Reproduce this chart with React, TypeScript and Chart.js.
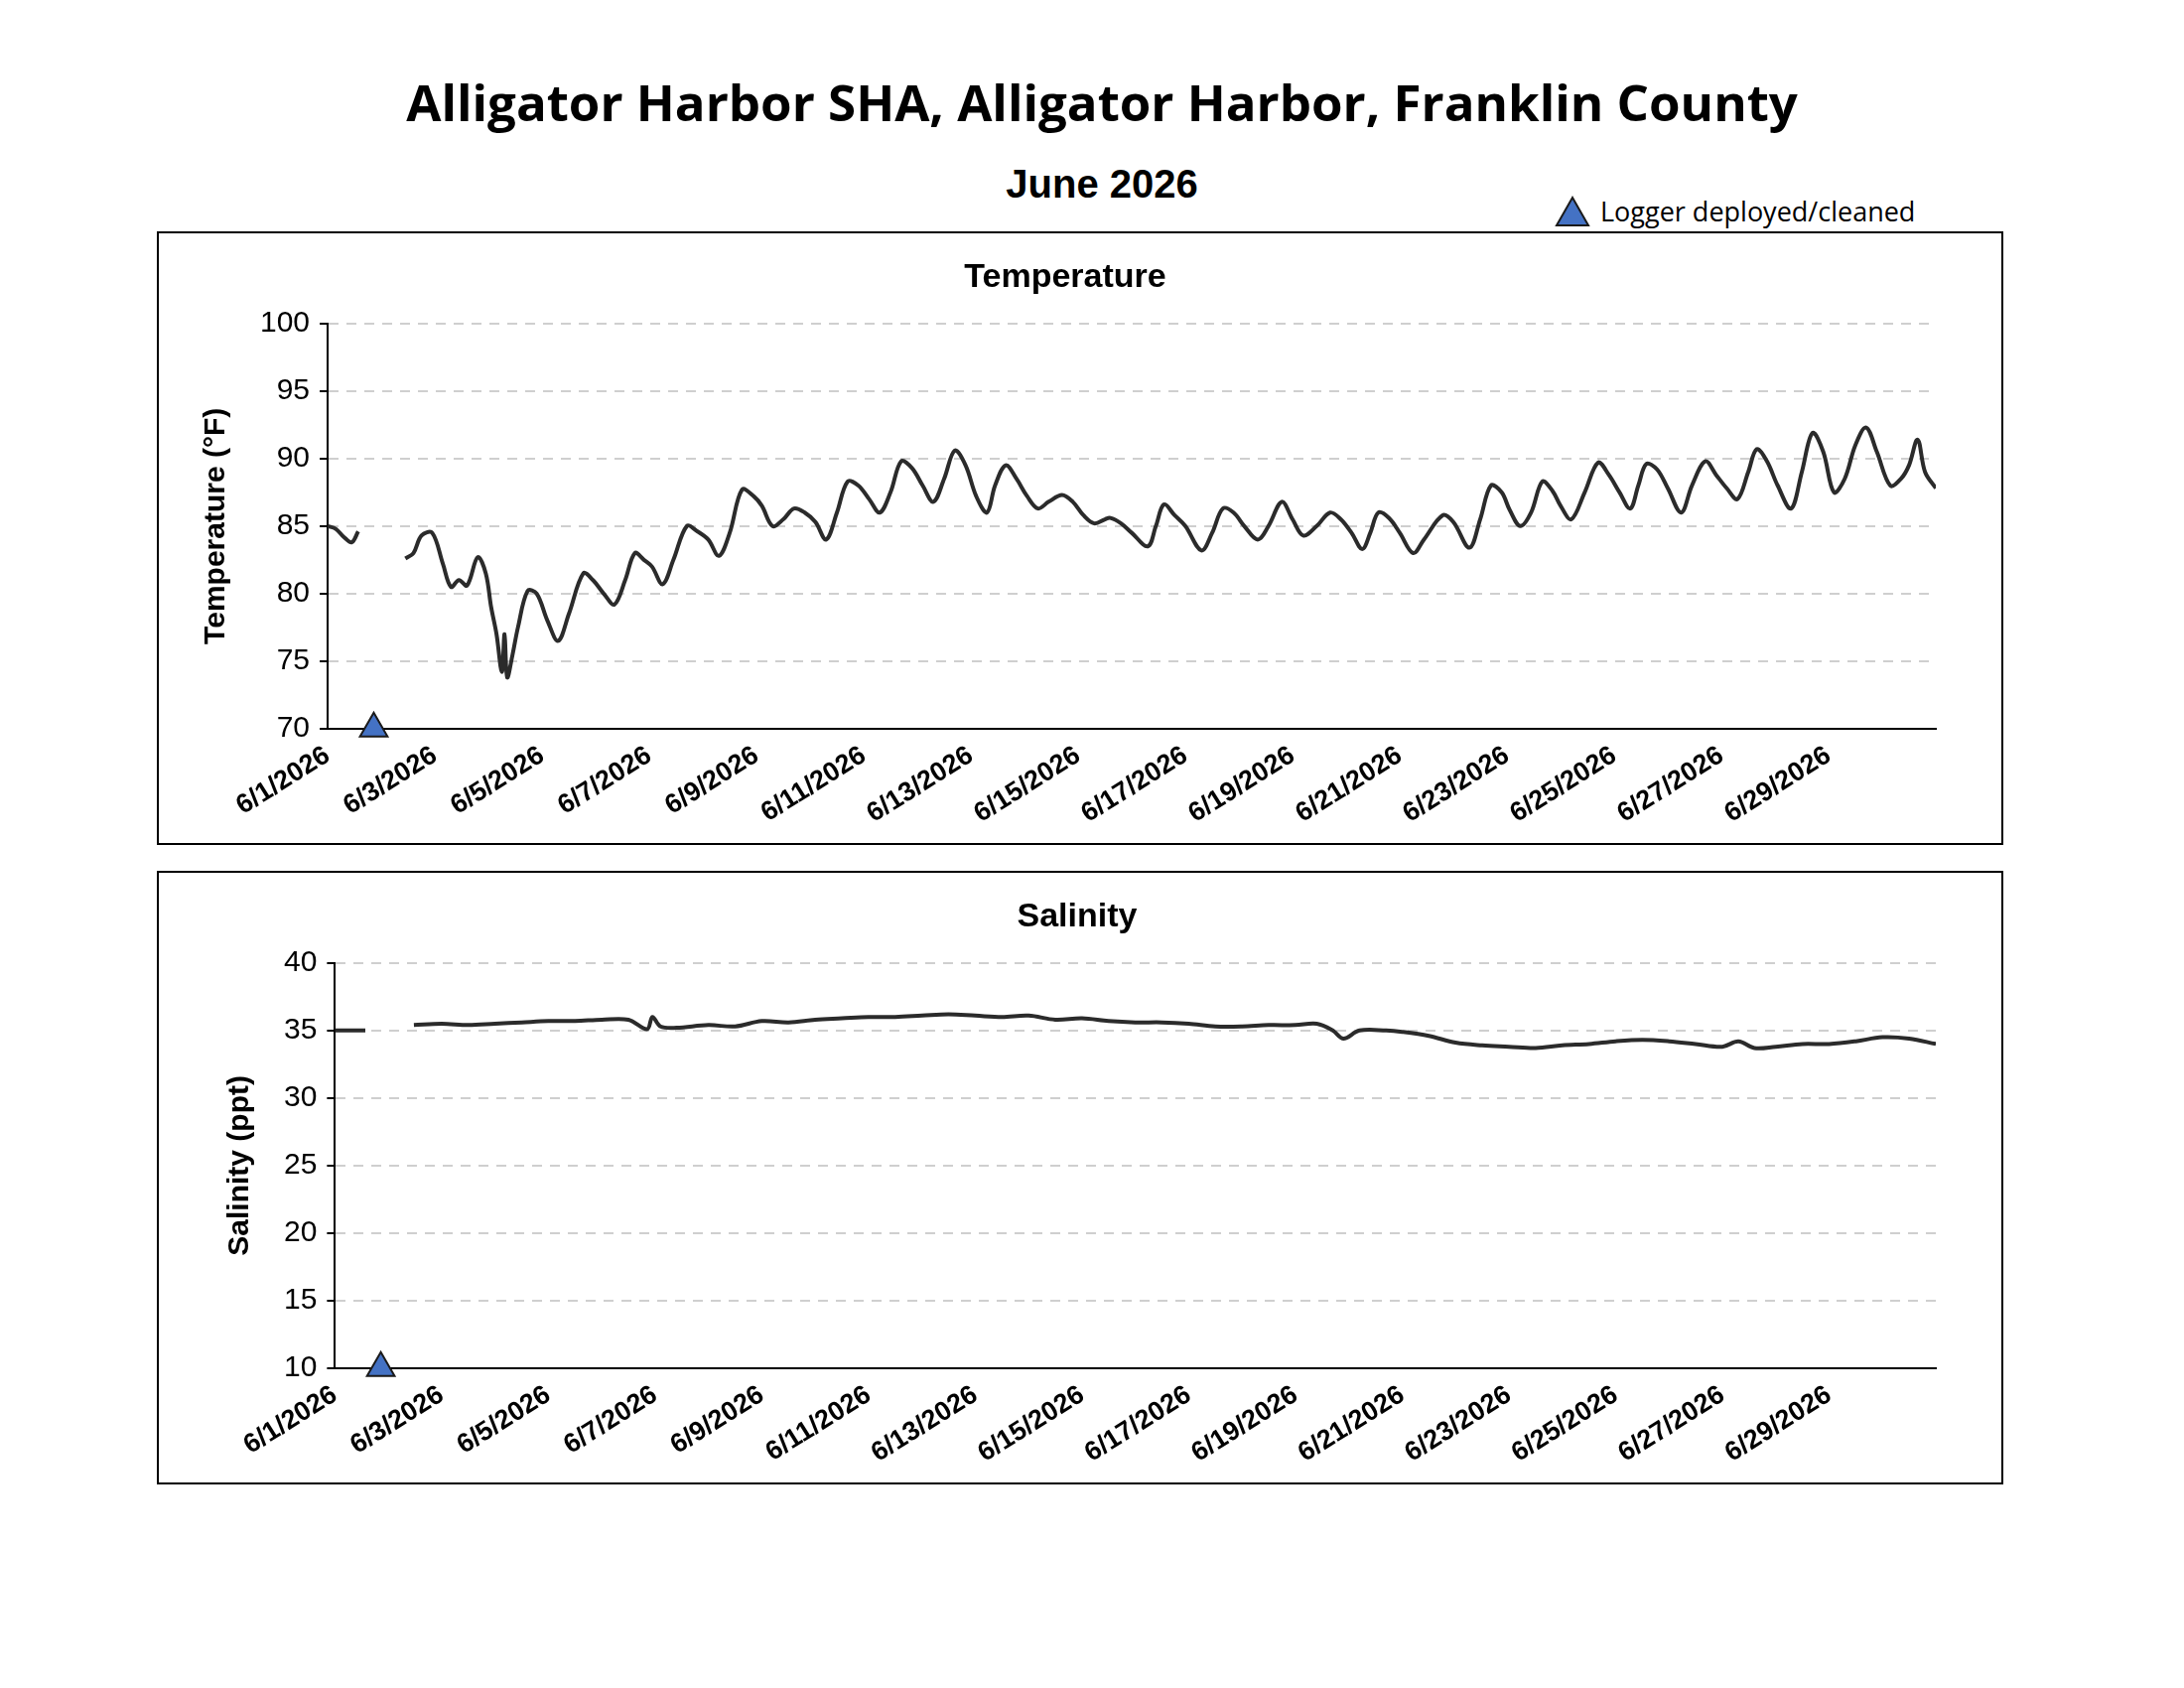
import React, { useEffect, useRef } from "react";
import { Chart, registerables } from "chart.js";
Chart.register(...registerables);

const tempDays = [0, 0.15, 0.3, 0.45, 0.57, 0.6, 1.45, 1.6, 1.75, 1.95, 2.15, 2.3, 2.45, 2.6, 2.8, 2.95, 3.05, 3.15, 3.25, 3.3, 3.35, 3.45, 3.55, 3.73, 3.9, 4.1, 4.3, 4.5, 4.77, 4.95, 5.15, 5.35, 5.55, 5.73, 5.9, 6.05, 6.25, 6.45, 6.7, 6.9, 7.1, 7.3, 7.5, 7.73, 7.95, 8.1, 8.3, 8.5, 8.7, 8.9, 9.1, 9.3, 9.5, 9.7, 9.9, 10.1, 10.3, 10.5, 10.7, 10.9, 11.1, 11.3, 11.5, 11.7, 11.9, 12.1, 12.3, 12.45, 12.65, 12.85, 13.05, 13.25, 13.45, 13.7, 13.9, 14.1, 14.3, 14.5, 14.6, 14.8, 15.0, 15.3, 15.45, 15.6, 15.8, 16.0, 16.3, 16.5, 16.7, 16.9, 17.1, 17.35, 17.55, 17.8, 18.0, 18.2, 18.45, 18.7, 18.9, 19.1, 19.3, 19.45, 19.6, 19.8, 20.0, 20.25, 20.45, 20.8, 21.0, 21.3, 21.5, 21.7, 21.9, 22.05, 22.25, 22.45, 22.66, 22.85, 23.0, 23.2, 23.45, 23.7, 23.9, 24.1, 24.3, 24.45, 24.6, 24.8, 25.0, 25.25, 25.45, 25.7, 25.9, 26.1, 26.3, 26.5, 26.66, 26.85, 27.05, 27.3, 27.5, 27.7, 27.9, 28.1, 28.3, 28.5, 28.7, 28.9, 29.15, 29.35, 29.5, 29.66, 29.8, 30];
const tempVals = [85, 84.8, 84.2, 83.8, 84.6, null, 82.6, 83, 84.3, 84.5, 82.2, 80.5, 81, 80.6, 82.7, 81.5, 79, 77, 74.2, 77, 73.8, 75.5, 77.5, 80.2, 80, 78, 76.5, 78.5, 81.5, 81, 80, 79.2, 81, 83, 82.5, 82, 80.7, 82.5, 85, 84.6, 84, 82.8, 84.5, 87.7, 87.2, 86.5, 85, 85.5, 86.3, 86, 85.3, 84, 86, 88.3, 88, 87, 86, 87.5, 89.8, 89.3, 88, 86.8, 88.5, 90.6, 89.5, 87.2, 86, 88, 89.5, 88.5, 87.2, 86.3, 86.8, 87.3, 86.8, 85.8, 85.2, 85.5, 85.6, 85.2, 84.5, 83.5, 85, 86.6, 85.8, 85, 83.2, 84.5, 86.3, 86, 85, 84, 85, 86.8, 85.5, 84.3, 85, 86, 85.5, 84.5, 83.3, 84.5, 86, 85.6, 84.5, 83, 84, 85.8, 85.3, 83.4, 85.5, 88, 87.5, 86.2, 85, 86, 88.3, 87.6, 86.5, 85.5, 87.5, 89.7, 88.8, 87.5, 86.3, 88, 89.6, 89.2, 87.8, 86, 88, 89.8, 88.8, 87.8, 87, 89, 90.7, 89.8, 88, 86.3, 89, 91.9, 90.5, 87.5, 88.5, 91, 92.3, 90.5, 88, 88.5, 89.5, 91.4, 89, 87.8];

const salDays = [0, 0.3, 0.57, 0.6, 1.48, 2, 2.5, 3, 3.5, 4, 4.5, 5, 5.5, 5.85, 5.95, 6.1, 6.4, 7, 7.5, 8, 8.5, 9, 9.5, 10, 10.5, 11, 11.5, 12, 12.5, 13, 13.5, 14, 14.5, 15, 15.5, 16, 16.5, 17, 17.5, 18, 18.4, 18.7, 18.9, 19.2, 19.7, 20, 20.5, 21, 21.5, 22, 22.5, 23, 23.5, 24, 24.5, 25, 25.5, 26, 26.3, 26.6, 27, 27.5, 28, 28.5, 29, 29.5, 30];
const salVals = [35, 35, 35, null, 35.4, 35.5, 35.4, 35.5, 35.6, 35.7, 35.7, 35.8, 35.8, 35.1, 36, 35.3, 35.2, 35.4, 35.3, 35.7, 35.6, 35.8, 35.9, 36, 36, 36.1, 36.2, 36.1, 36, 36.1, 35.8, 35.9, 35.7, 35.6, 35.6, 35.5, 35.3, 35.3, 35.4, 35.4, 35.5, 35, 34.4, 35, 35, 34.9, 34.6, 34.1, 33.9, 33.8, 33.7, 33.9, 34, 34.2, 34.3, 34.2, 34, 33.8, 34.2, 33.7, 33.8, 34, 34, 34.2, 34.5, 34.4, 34];

const deployDay = [0.86];
const xLabels = (v: number) => (v >= 30 ? "" : `6/${v + 1}/2026`);
const F = "'Liberation Sans', Arial, sans-serif";
const W = 1856;
const H = 614;

function Panel({ title, yTitle, days, vals, min, max, step, top, padLeft }: any) {
  const ref = useRef<HTMLCanvasElement>(null);
  useEffect(() => {
    const c = new Chart(ref.current!, {
      type: "line",
      data: {
        datasets: [
          {
            data: days.map((d: number, i: number) => ({ x: d, y: vals[i] })),
            borderColor: "#2b2b2b",
            borderWidth: 4,
            pointRadius: 0,
            tension: 0.35,
            spanGaps: false,
          },
          {
            data: deployDay.map((d) => ({ x: d, y: min })),
            pointStyle: "triangle",
            pointRadius: 16,
            backgroundColor: "#4472c4",
            borderColor: "#1a1a1a",
            borderWidth: 2,
            showLine: false,
            clip: false as any,
          },
        ],
      },
      options: {
        animation: false,
        responsive: false,
        layout: { padding: { left: padLeft, right: 66, top: 8, bottom: 10 } },
        plugins: {
          legend: { display: false },
          tooltip: { enabled: false },
          title: { display: true, text: title, color: "#000", font: { family: F, size: 34, weight: "bold" }, padding: { top: 16, bottom: 26 } },
        },
        scales: {
          x: {
            type: "linear",
            min: 0,
            max: 30,
            ticks: { stepSize: 2, callback: (v: any) => xLabels(v), color: "#000", font: { family: F, size: 27, weight: "bold" }, maxRotation: 32, minRotation: 32, autoSkip: false },
            grid: { display: false, drawTicks: true, tickLength: 8, color: "#000" },
            border: { color: "#000", width: 2 },
          },
          y: {
            min,
            max,
            ticks: { stepSize: step, color: "#000", font: { family: F, size: 30 }, padding: 10 },
            grid: { color: "#cfcfcf", lineWidth: 2, tickLength: 8, tickColor: "#000", drawTicks: true, tickBorderDash: [] },
            border: { color: "#000", width: 2, dash: [10, 8] },
            title: { display: true, text: yTitle, color: "#000", font: { family: F, size: 30, weight: "bold" }, padding: { bottom: 16 } },
          } as any,
        },
      },
    });
    return () => c.destroy();
  }, []);
  return (
    <div style={{ position: "absolute", left: 158, top, width: W, height: H, border: "2px solid #000", background: "#fff" }}>
      <canvas ref={ref} width={W} height={H} />
    </div>
  );
}

export default function App() {
  return (
    <div style={{ position: "absolute", left: 0, top: 0, width: 2200, height: 1700, background: "#fff" }}>
      <div style={{ position: "absolute", top: 67, left: 1110, transform: "translateX(-50%)", whiteSpace: "nowrap", fontFamily: "'Open Sans', sans-serif", fontWeight: 700, fontSize: 51, color: "#000" }}>
        Alligator Harbor SHA, Alligator Harbor, Franklin County
      </div>
      <div style={{ position: "absolute", top: 163, left: 1110, transform: "translateX(-50%)", whiteSpace: "nowrap", fontFamily: F, fontWeight: 700, fontSize: 40, color: "#000" }}>
        June 2026
      </div>
      <div style={{ position: "absolute", top: 194, left: 1566, display: "flex", alignItems: "center", fontFamily: "'Open Sans', sans-serif", fontSize: 27, color: "#000" }}>
        <svg width="36" height="32" style={{ marginRight: 10 }}>
          <polygon points="18,2 34,30 2,30" fill="#4472c4" stroke="#1a1a1a" strokeWidth="2" />
        </svg>
        Logger deployed/cleaned
      </div>
      <Panel title="Temperature" yTitle="Temperature (°F)" days={tempDays} vals={tempVals} min={70} max={100} step={5} top={233} padLeft={36} />
      <Panel title="Salinity" yTitle="Salinity (ppt)" days={salDays} vals={salVals} min={10} max={40} step={5} top={877} padLeft={60} />
    </div>
  );
}
